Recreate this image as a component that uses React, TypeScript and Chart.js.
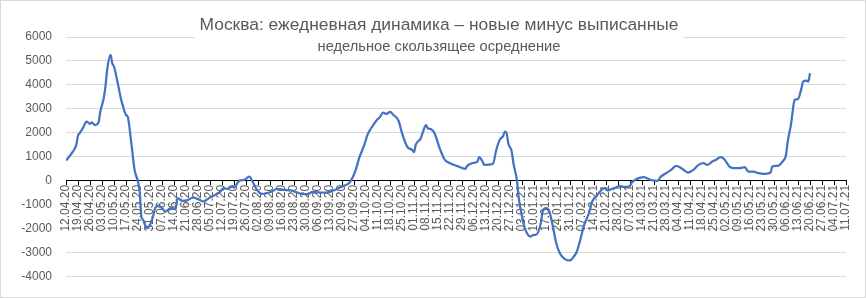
import React, { useEffect, useRef } from 'react';
import { Chart, registerables } from 'chart.js';

Chart.register(...registerables);

const TITLE = 'Москва: ежедневная динамика – новые минус выписанные';
const SUBTITLE = 'недельное скользящее осреднение';

// x axis: days since 12.04.20, one tick per week up to 11.07.21
const START_UTC = Date.UTC(2020, 3, 12);
const X_MAX_DAYS = 455;
const TICK_STEP_DAYS = 7;

const Y_MIN = -4000;
const Y_MAX = 6000;
const Y_STEP = 1000;

// sample days (offset from 12.04.20) and weekly moving average of (new - discharged)
const dayOffsets = [
  0, 4, 6, 7, 8, 10, 12, 14, 15, 17, 19, 20, 22, 23, 24, 26, 27, 28, 30, 32,
  33, 35, 36, 38, 40, 42, 43, 44, 45, 47, 49, 51, 52, 54, 56, 58, 61, 64, 65, 68,
  71, 74, 78, 80, 84, 87, 90, 92, 94, 97, 98, 101, 104, 107, 109, 111, 114, 117, 120, 123,
  127, 131, 135, 138, 141, 144, 148, 152, 156, 159, 162, 165, 167, 169, 171, 174, 176, 178, 181, 183,
  185, 187, 189, 191, 194, 196, 199, 202, 203, 204, 207, 208, 210, 211, 213, 215, 218, 221, 224, 228,
  233, 234, 237, 240, 241, 243, 244, 249, 251, 253, 255, 256, 257, 258, 260, 261, 263, 264, 266, 268,
  271, 273, 274, 277, 278, 280, 282, 284, 286, 288, 291, 294, 296, 298, 300, 302, 305, 307, 310, 312,
  314, 316, 318, 320, 323, 325, 327, 329, 330, 333, 337, 339, 341, 345, 347, 350, 353, 356, 359, 363,
  366, 369, 372, 374, 377, 379, 382, 384, 387, 390, 393, 396, 398, 401, 404, 407, 411, 412, 415, 418,
  420, 421, 423, 424, 425, 427, 429, 430, 432, 433, 434,
];

const values = [
  850, 1220, 1500, 1890, 1990, 2220, 2470, 2375, 2440, 2330, 2440, 2890, 3440, 3930, 4625, 5250, 4900, 4760, 4140, 3440,
  3170, 2750, 2680, 1640, 460, -30, -445, -1490, -1625, -1970, -1830, -1420, -1140, -1030, -1140, -1280, -1140, -1170, -720, -833,
  -800, -694, -790, -860, -694, -583, -445, -305, -330, -236, -280, 0, 40, 180, -60, -330, -540, -515, -445, -333,
  -375, -400, -486, -555, -555, -458, -486, -486, -400, -305, -208, -97, 110, 460, 945, 1500, 1945, 2195, 2510, 2650,
  2850, 2790, 2875, 2750, 2510, 1990, 1430, 1290, 1195, 1500, 1780, 1990, 2330, 2195, 2150, 1990, 1350, 875, 736, 625,
  500, 625, 736, 805, 986, 805, 667, 708, 1290, 1710, 1875, 2055, 2000, 1570, 1220, 736, 40, -653, -1490, -2040,
  -2320, -2250, -2250, -1760, -1280, -1140, -1280, -1900, -2600, -3010, -3260, -3320, -3180, -2945, -2460, -1900, -1350, -860, -583, -400,
  -305, -400, -347, -305, -208, -250, -250, -208, -70, 83, 152, 110, 40, 0, 180, 320, 460, 625, 530, 347,
  460, 667, 736, 667, 805, 875, 986, 903, 597, 530, 530, 570, 390, 390, 320, 290, 347, 597, 625, 805,
  1080, 1640, 2400, 2960, 3375, 3415, 3860, 4140, 4180, 4140, 4490,
];

const TEXT_COLOR = '#595959';
const GRID_COLOR = '#d9d9d9';
const LINE_COLOR = '#4472c4';
const FONT = '"Liberation Sans", Arial, sans-serif';

function formatDay(offset: number): string {
  const d = new Date(START_UTC + offset * 86400000);
  const dd = String(d.getUTCDate()).padStart(2, '0');
  const mm = String(d.getUTCMonth() + 1).padStart(2, '0');
  const yy = String(d.getUTCFullYear() % 100).padStart(2, '0');
  return `${dd}.${mm}.${yy}`;
}

const overlayPlugin = {
  id: 'overlayTitles',
  beforeDatasetsDraw(chart: any) {
    const ctx = chart.ctx as CanvasRenderingContext2D;
    const cx = 439;
    ctx.save();
    ctx.font = `17.4px ${FONT}`;
    const w = ctx.measureText(TITLE).width;
    ctx.fillStyle = '#ffffff';
    ctx.fillRect(cx - w / 2 - 5, 10, w + 10, 30);
    ctx.fillStyle = TEXT_COLOR;
    ctx.textAlign = 'center';
    ctx.textBaseline = 'middle';
    ctx.fillText(TITLE, cx, 25);
    ctx.font = `14.7px ${FONT}`;
    ctx.fillText(SUBTITLE, cx, 47);
    ctx.restore();
  },
  afterDraw(chart: any) {
    const ctx = chart.ctx as CanvasRenderingContext2D;
    ctx.save();
    ctx.strokeStyle = GRID_COLOR;
    ctx.lineWidth = 1;
    ctx.strokeRect(0.5, 0.5, chart.width - 1, chart.height - 1);
    ctx.restore();
  },
};

export default function App() {
  const canvasRef = useRef<HTMLCanvasElement | null>(null);

  useEffect(() => {
    document.body.style.margin = '0';
    const canvas = canvasRef.current;
    if (!canvas) return;
    const points = dayOffsets.map((d, i) => ({ x: d, y: values[i] }));
    const chart = new Chart(canvas, {
      type: 'line',
      data: {
        datasets: [
          {
            data: points,
            borderColor: LINE_COLOR,
            borderWidth: 2.25,
            pointRadius: 0,
            fill: false,
            cubicInterpolationMode: 'monotone',
          },
        ],
      },
      options: {
        animation: false,
        responsive: false,
        maintainAspectRatio: false,
        layout: { padding: { top: 37, bottom: 21, right: 20, left: 0 } },
        plugins: {
          legend: { display: false },
          title: { display: false },
          tooltip: { enabled: false },
        },
        scales: {
          x: {
            type: 'linear',
            min: 0,
            max: X_MAX_DAYS,
            position: { y: 0 } as any,
            ticks: {
              stepSize: TICK_STEP_DAYS,
              autoSkip: false,
              maxRotation: 90,
              minRotation: 90,
              padding: 0,
              color: TEXT_COLOR,
              font: { family: FONT, size: 12 },
              callback: (v: any) => formatDay(Number(v)),
            },
            grid: {
              drawOnChartArea: false,
              drawTicks: true,
              tickLength: 4,
              color: '#000000',
            },
            border: { display: true, color: '#000000', width: 1 },
          },
          y: {
            min: Y_MIN,
            max: Y_MAX,
            ticks: {
              stepSize: Y_STEP,
              padding: 14,
              color: TEXT_COLOR,
              font: { family: FONT, size: 12 },
              callback: (v: any) => String(v),
            },
            grid: { color: GRID_COLOR, drawTicks: false },
            border: { display: false },
            afterFit: (scale: any) => {
              scale.width = 66;
            },
          },
        },
      },
      plugins: [overlayPlugin],
    });
    return () => chart.destroy();
  }, []);

  return (
    <div>
      <canvas ref={canvasRef} width={866} height={298} style={{ display: 'block' }} />
    </div>
  );
}
